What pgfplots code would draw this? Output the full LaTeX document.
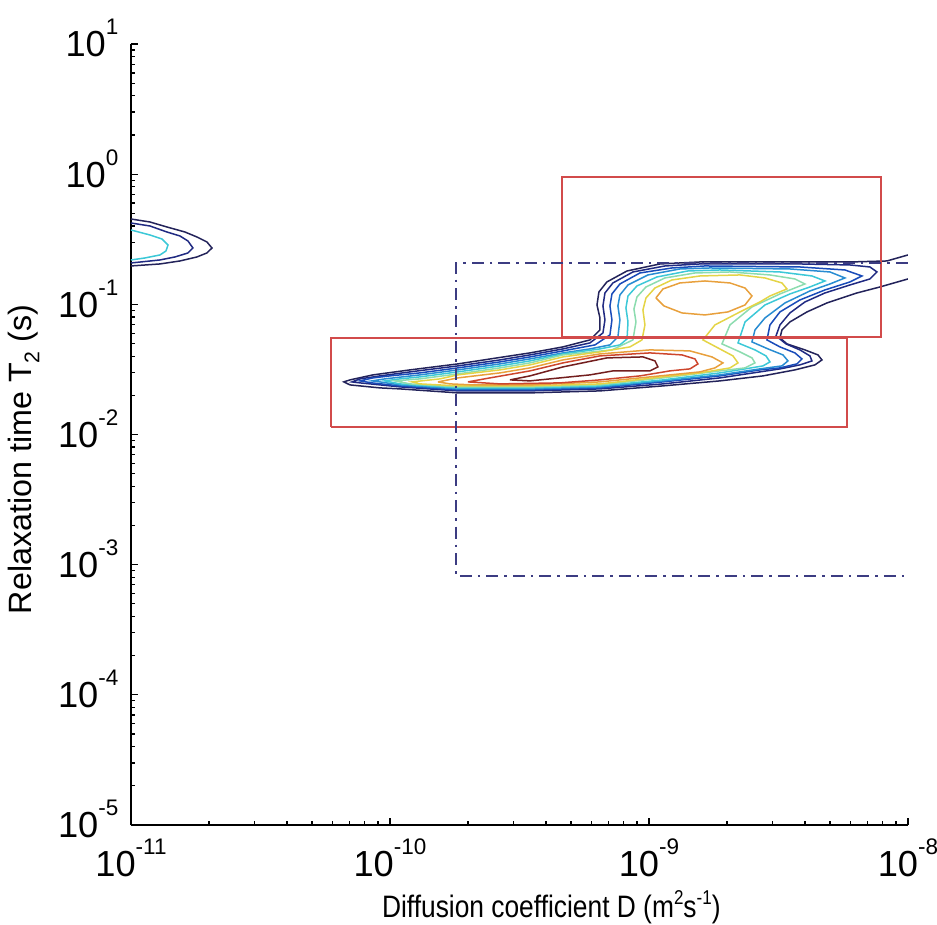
\documentclass[border=0pt]{standalone}
\usepackage{pgfplots}
\pgfplotsset{compat=1.18}
\usepackage{fontspec}
\setmainfont{Liberation Sans}[FakeStretch=0.85]
\newfontfamily\ylfont{Liberation Sans}
\definecolor{k1}{RGB}{35,35,90}
\definecolor{k2}{RGB}{32,42,130}
\definecolor{k3}{RGB}{25,75,185}
\definecolor{k4}{RGB}{40,140,210}
\definecolor{k5}{RGB}{60,200,215}
\definecolor{k6}{RGB}{140,220,175}
\definecolor{k7}{RGB}{228,212,70}
\definecolor{k8}{RGB}{232,160,60}
\definecolor{k9}{RGB}{205,70,45}
\definecolor{k10}{RGB}{115,30,30}
\definecolor{boxred}{RGB}{210,75,75}
\definecolor{dashblue}{RGB}{60,60,130}
\newcommand{\tl}[1]{10\raisebox{8.8pt}{\fontsize{9}{10}\selectfont #1}}
\begin{document}
\begin{tikzpicture}
\begin{axis}[
  xmode=log, ymode=log,
  xmin=1e-11, xmax=1e-8, ymin=1e-5, ymax=1e1,
  scale only axis, width=310.8pt, height=312.4pt,
  axis x line=bottom, axis y line=left,
  axis line style={-, line width=0.5pt, black},
  tick align=inside,
  tick style={black, line width=0.5pt},
  major tick length=3pt, minor tick length=1.8pt,
  xtick={1e-11,1e-10,1e-9,1e-8},
  xticklabels={\tl{-11},\tl{-10},\tl{-9},\tl{-8}},
  minor xtick={2e-11,3e-11,4e-11,5e-11,6e-11,7e-11,8e-11,9e-11,2e-10,3e-10,4e-10,5e-10,6e-10,7e-10,8e-10,9e-10,2e-9,3e-9,4e-9,5e-9,6e-9,7e-9,8e-9,9e-9},
  ytick={1e-5,1e-4,1e-3,1e-2,1e-1,1,10},
  yticklabels={\tl{-5},\tl{-4},\tl{-3},\tl{-2},\tl{-1},\tl{0},\tl{1}},
  minor ytick={2e-5,3e-5,4e-5,5e-5,6e-5,7e-5,8e-5,9e-5,2e-4,3e-4,4e-4,5e-4,6e-4,7e-4,8e-4,9e-4,2e-3,3e-3,4e-3,5e-3,6e-3,7e-3,8e-3,9e-3,2e-2,3e-2,4e-2,5e-2,6e-2,7e-2,8e-2,9e-2,0.2,0.3,0.4,0.5,0.6,0.7,0.8,0.9,2,3,4,5,6,7,8,9},
  xticklabel shift=2pt, yticklabel shift=1.5pt,
  xticklabel style={font=\ylfont\fontsize{14.5}{16}\selectfont},
  yticklabel style={font=\ylfont\fontsize{14.5}{16}\selectfont, yshift=2.3pt},
  xlabel={Diffusion coefficient D (m\raisebox{5pt}{\fontsize{8}{9}\selectfont 2}s\raisebox{5pt}{\fontsize{8}{9}\selectfont -1})},
  xlabel style={at={(axis description cs:0.541,-0.1178)}, anchor=base, font=\fontsize{12.4}{14}\selectfont},
  ylabel={Relaxation time T\raisebox{-3pt}{\fontsize{8.5}{9}\selectfont 2} (s)},
  ylabel style={at={(axis description cs:-0.1274,0.468)}, anchor=base, font=\ylfont\fontsize{12.9}{14}\selectfont},
  every axis plot/.append style={line width=0.6pt},
]
% left contours
\addplot[k1] coordinates {(1e-11,0.4525) (1.184e-11,0.4292) (1.377e-11,0.3929) (1.616e-11,0.3596) (1.798e-11,0.3292) (1.965e-11,0.3014) (2.055e-11,0.2710) (1.965e-11,0.2481) (1.798e-11,0.2312) (1.546e-11,0.2154) (1.294e-11,0.2043) (1e-11,0.1972)};
\addplot[k2] coordinates {(1e-11,0.4216) (1.184e-11,0.3999) (1.377e-11,0.3596) (1.546e-11,0.3351) (1.660e-11,0.3067) (1.735e-11,0.2710) (1.660e-11,0.2481) (1.479e-11,0.2312) (1.294e-11,0.2192) (1e-11,0.2079)};
\addplot[k5] coordinates {(1e-11,0.3726) (1.184e-11,0.3411) (1.317e-11,0.3178) (1.390e-11,0.2858) (1.365e-11,0.2570) (1.294e-11,0.2395) (1.132e-11,0.2271) (1e-11,0.2192)};
% main contours
\addplot[k1] coordinates {(1e-8,0.2395) (8.298e-9,0.2154) (5.973e-9,0.2116) (3.828e-9,0.2116) (2.455e-9,0.2116) (1.574e-9,0.2116) (1.103e-9,0.2043) (8.23e-10,0.1805) (6.88e-10,0.1486) (6.41e-10,0.1245) (6.30e-10,0.0989) (6.469e-10,0.0786) (6.469e-10,0.0636) (5.919e-10,0.0533) (4.656e-10,0.0471) (3.472e-10,0.04235) (2.589e-10,0.03877) (1.830e-10,0.03487) (1.195e-10,0.03136) (8.60e-11,0.02871) (7.01e-11,0.02628) (6.64e-11,0.02536) (7.01e-11,0.02405) (9.15e-11,0.02281) (1.093e-10,0.02241) (1.830e-10,0.02088) (3.472e-10,0.02088) (6.469e-10,0.02163) (1.133e-9,0.02363) (1.880e-9,0.02582) (2.756e-9,0.02820) (3.662e-9,0.03136) (4.374e-9,0.03426) (4.656e-9,0.03742) (4.493e-9,0.04088) (4.002e-9,0.04466) (3.411e-9,0.04966) (3.205e-9,0.05521) (3.262e-9,0.0636) (3.503e-9,0.07326) (4.074e-9,0.08743) (4.868e-9,0.1025) (6.356e-9,0.1223) (7.799e-9,0.1360) (1e-8,0.1567)};
\addplot[k2] coordinates {(1.574e-9,0.2043) (3.828e-9,0.2043) (5.973e-9,0.2007) (7.134e-9,0.1937) (7.593e-9,0.1773) (7.134e-9,0.1567) (5.973e-9,0.1409) (4.782e-9,0.1223) (4.002e-9,0.1043) (3.503e-9,0.08589) (3.205e-9,0.06948) (3.094e-9,0.0572) (3.381e-9,0.04966) (3.828e-9,0.04466) (4.184e-9,0.04017) (4.259e-9,0.03677) (3.828e-9,0.03426) (3.205e-9,0.03192) (2.683e-9,0.03027) (1.880e-9,0.02722) (1.133e-9,0.02448) (6.469e-10,0.02241) (3.472e-10,0.02163) (1.830e-10,0.02163) (1.093e-10,0.02322) (7.66e-11,0.02492) (7.13e-11,0.02536) (7.66e-11,0.02675) (9.15e-11,0.02820) (1.195e-10,0.03027) (1.830e-10,0.03366) (2.659e-10,0.03742) (3.472e-10,0.04088) (4.656e-10,0.04546) (5.919e-10,0.05054) (6.644e-10,0.06031) (6.763e-10,0.0759) (6.644e-10,0.09721) (6.763e-10,0.1223) (7.26e-10,0.1460) (8.673e-10,0.1773) (1.153e-9,0.1972) (1.574e-9,0.2043)};
\addplot[k3] coordinates {(1.645e-9,0.1972) (3.828e-9,0.1937) (5.71e-9,0.1837) (6.645e-9,0.1652) (5.973e-9,0.1486) (4.782e-9,0.1290) (3.828e-9,0.1081) (3.205e-9,0.08743) (2.933e-9,0.06948) (2.855e-9,0.05329) (3.205e-9,0.04709) (3.662e-9,0.04235) (3.897e-9,0.03809) (3.728e-9,0.03487) (3.205e-9,0.03249) (2.683e-9,0.03136) (1.880e-9,0.02820) (1.133e-9,0.02536) (6.469e-10,0.02281) (3.472e-10,0.02202) (1.830e-10,0.02202) (1.093e-10,0.02363) (8.52e-11,0.02492) (7.66e-11,0.02582) (8.60e-11,0.02722) (1.0e-10,0.0282) (1.306e-10,0.02974) (1.830e-10,0.03249) (2.659e-10,0.03612) (3.472e-10,0.03946) (4.656e-10,0.04388) (6.19e-10,0.04879) (7.07e-10,0.05822) (7.197e-10,0.0759) (7.07e-10,0.09721) (7.197e-10,0.1202) (7.727e-10,0.1434) (9.23e-10,0.1742) (1.227e-9,0.1903) (1.645e-9,0.1972)};
\addplot[k4] coordinates {(1.720e-9,0.1903) (3.503e-9,0.1870) (5.0e-9,0.1773) (5.71e-9,0.1595) (5.0e-9,0.1434) (4.184e-9,0.1267) (3.351e-9,0.1025) (2.805e-9,0.07863) (2.567e-9,0.0636) (2.499e-9,0.05144) (2.881e-9,0.04546) (3.292e-9,0.04088) (3.442e-9,0.03677) (3.262e-9,0.03366) (2.683e-9,0.03192) (1.880e-9,0.02871) (1.133e-9,0.02582) (6.469e-10,0.02322) (3.472e-10,0.02241) (1.830e-10,0.02241) (1.093e-10,0.02405) (9.15e-11,0.02536) (8.52e-11,0.02582) (9.56e-11,0.02675) (1.306e-10,0.02871) (1.830e-10,0.03136) (2.659e-10,0.03487) (3.472e-10,0.03809) (4.656e-10,0.04235) (5.919e-10,0.04546) (7.07e-10,0.04879) (7.59e-10,0.0562) (7.727e-10,0.0759) (7.59e-10,0.09721) (7.727e-10,0.1181) (8.30e-10,0.1409) (9.91e-10,0.1682) (1.317e-9,0.1870) (1.720e-9,0.1903)};
\addplot[k5] coordinates {(1.880e-9,0.1837) (3.205e-9,0.1773) (4.259e-9,0.1652) (4.782e-9,0.1512) (4.184e-9,0.1360) (3.503e-9,0.1202) (2.805e-9,0.0989) (2.349e-9,0.07326) (2.207e-9,0.05054) (2.567e-9,0.04466) (2.830e-9,0.04017) (2.933e-9,0.03612) (2.756e-9,0.03366) (2.349e-9,0.03192) (1.880e-9,0.02974) (1.133e-9,0.02628) (6.469e-10,0.02363) (3.472e-10,0.02281) (1.830e-10,0.02281) (1.093e-10,0.02448) (9.56e-11,0.02582) (1.093e-10,0.02675) (1.306e-10,0.02771) (1.830e-10,0.03027) (2.659e-10,0.03366) (3.472e-10,0.03677) (4.656e-10,0.04161) (6.469e-10,0.04546) (7.727e-10,0.04879) (8.23e-10,0.05425) (8.30e-10,0.07326) (8.15e-10,0.09383) (8.30e-10,0.1160) (8.99e-10,0.1385) (1.074e-9,0.1623) (1.414e-9,0.1805) (1.880e-9,0.1837)};
\addplot[k6] coordinates {(2.055e-9,0.1773) (2.933e-9,0.1682) (3.662e-9,0.1567) (4.002e-9,0.1434) (3.205e-9,0.1202) (2.499e-9,0.09551) (2.055e-9,0.06948) (1.914e-9,0.04966) (2.246e-9,0.04311) (2.499e-9,0.03877) (2.567e-9,0.03549) (2.349e-9,0.03249) (1.880e-9,0.03081) (1.133e-9,0.02722) (6.469e-10,0.02405) (3.472e-10,0.02322) (1.830e-10,0.02322) (1.195e-10,0.02448) (1.045e-10,0.02582) (1.306e-10,0.02675) (1.830e-10,0.02922) (2.659e-10,0.03249) (3.472e-10,0.03549) (4.656e-10,0.04088) (7.197e-10,0.04466) (8.673e-10,0.05329) (8.91e-10,0.07326) (8.75e-10,0.09219) (8.99e-10,0.1140) (9.74e-10,0.1360) (1.153e-9,0.1595) (1.505e-9,0.1742) (2.055e-9,0.1773)};
\addplot[k7] coordinates {(2.246e-9,0.1682) (2.805e-9,0.1595) (3.262e-9,0.1460) (3.411e-9,0.1313) (2.933e-9,0.1160) (2.683e-9,0.1043) (2.246e-9,0.08743) (1.798e-9,0.06948) (1.616e-9,0.05329) (1.847e-9,0.04627) (2.110e-9,0.04017) (2.207e-9,0.03549) (2.055e-9,0.03249) (1.574e-9,0.02974) (1.133e-9,0.02771) (6.469e-10,0.02448) (3.472e-10,0.02363) (1.830e-10,0.02363) (1.306e-10,0.02448) (1.216e-10,0.02536) (1.560e-10,0.02675) (1.830e-10,0.02871) (2.659e-10,0.03136) (3.472e-10,0.03426) (4.656e-10,0.03946) (6.469e-10,0.04311) (8.445e-10,0.04709) (9.40e-10,0.05329) (9.65e-10,0.06948) (9.48e-10,0.09057) (9.74e-10,0.1120) (1.055e-9,0.1336) (1.227e-9,0.1539) (1.574e-9,0.1652) (2.246e-9,0.1682)};
\addplot[k8] coordinates {(1.064e-9,0.1120) (1.133e-9,0.1313) (1.317e-9,0.1460) (1.645e-9,0.1512) (2.055e-9,0.1460) (2.349e-9,0.1336) (2.499e-9,0.1160) (2.349e-9,0.0989) (2.018e-9,0.08743) (1.645e-9,0.08291) (1.341e-9,0.08589) (1.143e-9,0.09721) (1.064e-9,0.1120)};
\addplot[k8] coordinates {(1.532e-10,0.02536) (1.830e-10,0.02722) (2.659e-10,0.02974) (3.472e-10,0.03249) (4.656e-10,0.03742) (6.469e-10,0.04161) (1.009e-9,0.04466) (1.440e-9,0.04388) (1.751e-9,0.03946) (1.931e-9,0.03549) (1.798e-9,0.03249) (1.574e-9,0.03027) (1.009e-9,0.02771) (6.469e-10,0.02536) (3.472e-10,0.02405) (2.092e-10,0.02405) (1.705e-10,0.02448) (1.532e-10,0.02536)};
\addplot[k9] coordinates {(2.001e-10,0.02536) (2.433e-10,0.02722) (3.472e-10,0.03081) (4.656e-10,0.03549) (6.469e-10,0.04017) (1.009e-9,0.04235) (1.341e-9,0.04088) (1.505e-9,0.03809) (1.546e-9,0.03487) (1.440e-9,0.03192) (1.205e-9,0.03081) (9.23e-10,0.02820) (6.469e-10,0.02628) (4.534e-10,0.02492) (2.659e-10,0.02448) (2.001e-10,0.02536)};
\addplot[k10] coordinates {(2.906e-10,0.02628) (3.472e-10,0.02820) (4.656e-10,0.03307) (6.88e-10,0.03877) (9.48e-10,0.03946) (1.055e-9,0.03677) (1.083e-9,0.03307) (1.009e-9,0.03081) (7.26e-10,0.03081) (5.919e-10,0.02871) (4.534e-10,0.02722) (3.472e-10,0.02582) (2.906e-10,0.02628)};
% boxes
\addplot[boxred] coordinates {(4.615e-10,0.0562) (7.87e-9,0.0562) (7.87e-9,0.952) (4.615e-10,0.952) (4.615e-10,0.0562)};
\addplot[boxred] coordinates {(5.92e-11,0.01144) (5.815e-9,0.01144) (5.815e-9,0.05521) (5.92e-11,0.05521) (5.92e-11,0.01144)};
\addplot[dashblue, dash pattern=on 4.8pt off 2.4pt on 1pt off 2.4pt] coordinates {(1e-8,0.2079) (1.80e-10,0.2079) (1.80e-10,8.2e-4) (1e-8,8.2e-4)};
\end{axis}
\pgfresetboundingbox
\useasboundingbox (-52.4pt,-39.6pt) rectangle (322.4pt,330pt);
\end{tikzpicture}
\end{document}
